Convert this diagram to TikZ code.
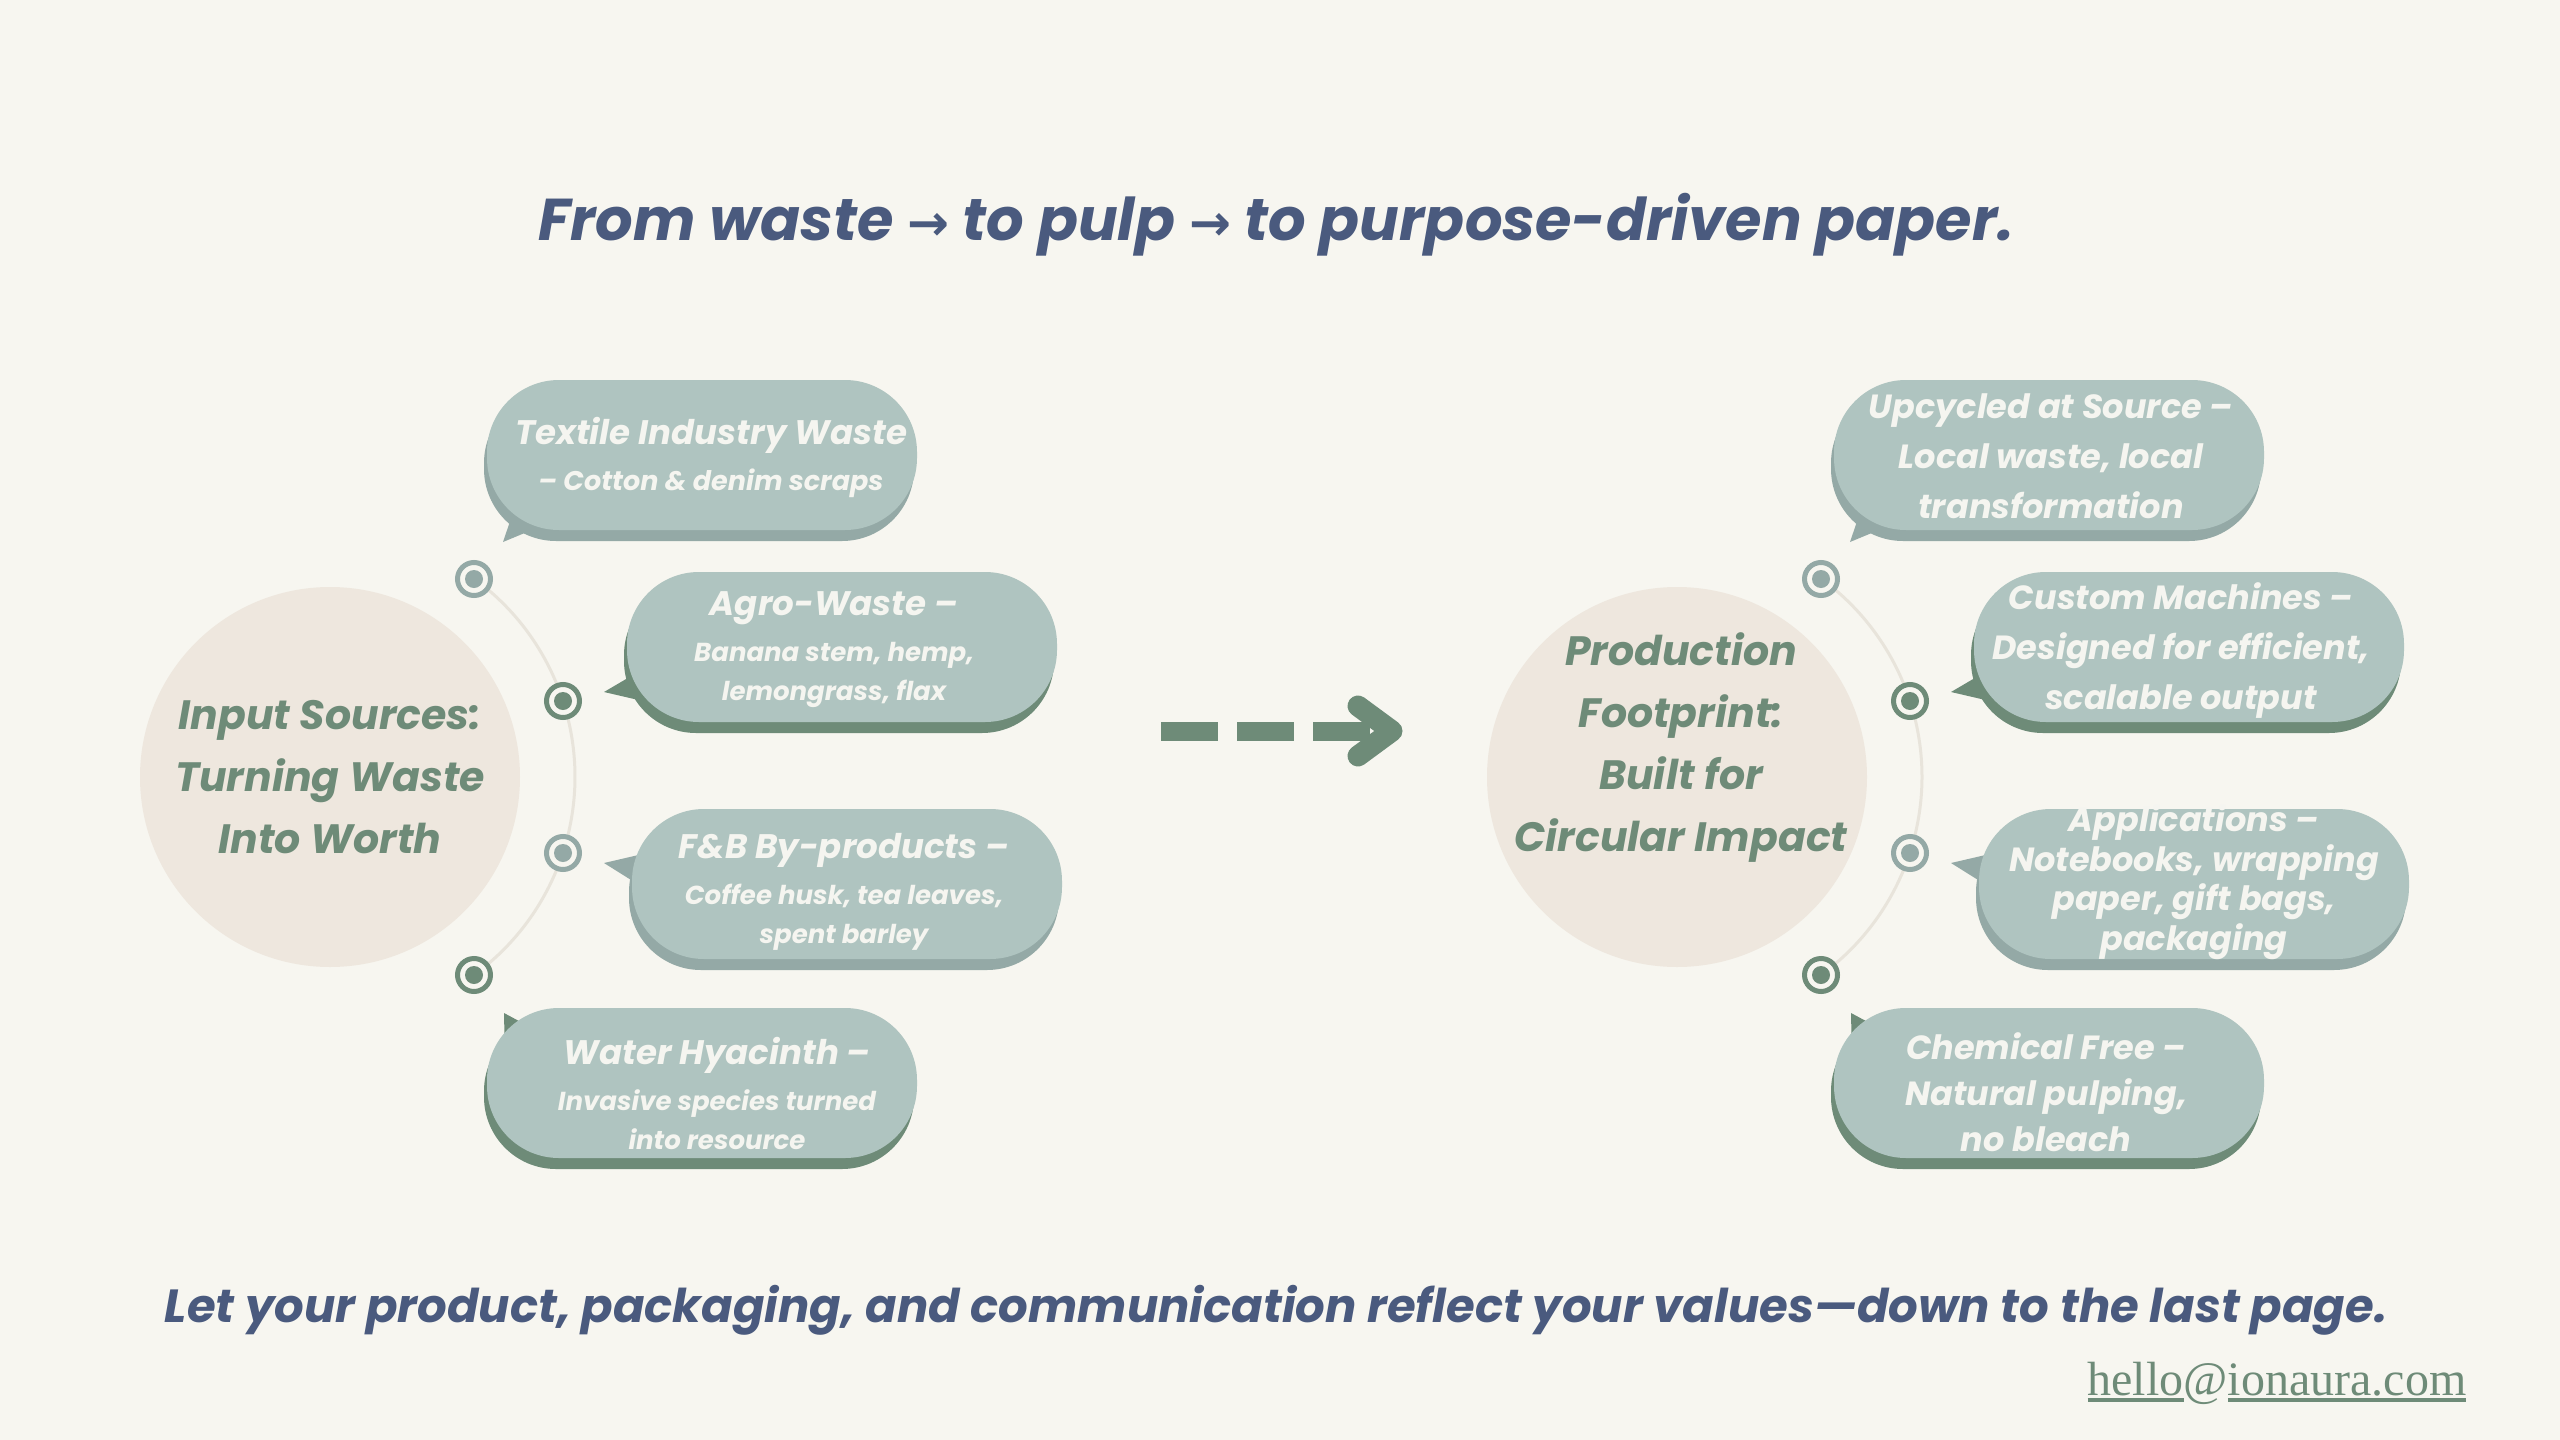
\documentclass[tikz,border=0pt]{standalone}
\usepackage{graphicx}
\usepackage{fontspec}
\setmainfont{Poppins}
\newfontfamily\arrowfont{DejaVu Sans}
\newfontfamily\emailfont{Liberation Serif}
\definecolor{bgc}{HTML}{F7F6F0}
\definecolor{beige}{HTML}{EEE7DE}
\definecolor{arcc}{HTML}{E8E4DB}
\definecolor{sage}{HTML}{6E8B78}
\definecolor{grayc}{HTML}{94A9A6}
\definecolor{bub}{HTML}{AFC4C0}
\definecolor{bubtxt}{HTML}{F5F5F0}
\definecolor{slate}{HTML}{4A5A7E}
\newsavebox\ulbox
\newcommand\myul[1]{\sbox\ulbox{#1}\rlap{\rule[-7pt]{\wd\ulbox}{4pt}}\usebox\ulbox}
\newcommand\smallarr{{\arrowfont\bfseries\scalebox{0.85}{→}}}
\newcommand\bt[1]{{\fontsize{34}{39}\selectfont #1}}
\tikzset{
  bubble/.style={fill=bub, rounded corners=72pt, minimum width=430pt, minimum height=150pt, inner sep=0pt},
  shgray/.style={bubble, fill=grayc},
  shgreen/.style={bubble, fill=sage},
  btext/.style={align=center, inner sep=0pt, text=bubtxt, font=\bfseries\itshape\fontsize{26}{39}\selectfont},
  rtext/.style={align=center, inner sep=0pt, text=bubtxt, font=\bfseries\itshape\fontsize{33.5}{50}\selectfont},
  hub/.style={circle, fill=beige, minimum size=380pt, inner sep=0pt},
  hubtext/.style={align=center, inner sep=0pt, text=sage, font=\bfseries\itshape\fontsize{41}{62}\selectfont},
  markg/.style={circle, draw=grayc, line width=5pt, fill=bgc, minimum size=33pt, inner sep=0pt},
  marks/.style={markg, draw=sage},
  dotg/.style={circle, fill=grayc, minimum size=18pt, inner sep=0pt},
  dots/.style={dotg, fill=sage},
  arcline/.style={draw=arcc, line width=3pt},
  dashbar/.style={fill=sage}
}
\begin{document}
\begin{tikzpicture}[x=1pt,y=-1pt]
\fill[bgc] (0,0) rectangle (2560,1440);
\useasboundingbox (0,0) rectangle (2560,1440);

% title
\node[anchor=base, text=slate, font=\bfseries\itshape\fontsize{59}{64}\selectfont] (title) at (1276,240)
  {From waste \smallarr{} to pulp \smallarr{} to purpose-driven paper.};

% ---------- left cluster ----------
\coordinate (lc) at (330,777);
\coordinate (lm1) at (474,579);
\coordinate (lm2) at (563,701);
\coordinate (lm3) at (563,853);
\coordinate (lm4) at (474,975);
\draw[arcline] (lm4) arc[start angle=-54, end angle=54, radius=245pt];
\node[hub] (lhub) at (lc) {};
\node[hubtext] (lhubt) at (330,777) {Input Sources:\\Turning Waste\\Into Worth};

\node[shgray] (lb1s) at (699,466) {};
\fill[grayc] (503,542) -- (520,492) -- (556,520) -- cycle;
\node[bubble] (lb1) at (702,455) {};
\node[btext] (lb1t) at (711,457) {\bt{Textile Industry Waste}\\[7pt]{\fontsize{27}{39}\selectfont – Cotton \& denim scraps}};

\node[shgreen] (lb2s) at (839,658) {};
\fill[sage] (604,692) -- (650,665) -- (660,705) -- cycle;
\node[bubble] (lb2) at (842,647) {};
\node[btext] (lb2t) at (834,650) {\bt{Agro-Waste –}\\[7pt]Banana stem, hemp,\\lemongrass, flax};

\node[shgray] (lb3s) at (844,895) {};
\fill[grayc] (604,863) -- (660,850) -- (655,895) -- cycle;
\node[bubble] (lb3) at (847,884) {};
\node[btext] (lb3t) at (844,892) {\bt{F\&B By-products –}\\[7pt]Coffee husk, tea leaves,\\spent barley};

\node[shgreen] (lb4s) at (699,1094) {};
\fill[sage] (504,1013) -- (545,1035) -- (505,1060) -- cycle;
\node[bubble] (lb4) at (702,1083) {};
\node[btext] (lb4t) at (717,1093) {\bt{Water Hyacinth –}\\[7pt]Invasive species turned\\into resource};

\node[markg] (lk1) at (lm1) {}; \node[dotg] (lk1d) at (lm1) {};
\node[marks] (lk2) at (lm2) {}; \node[dots] (lk2d) at (lm2) {};
\node[markg] (lk3) at (lm3) {}; \node[dotg] (lk3d) at (lm3) {};
\node[marks] (lk4) at (lm4) {}; \node[dots] (lk4d) at (lm4) {};

% ---------- arrow ----------
\fill[dashbar] (1161,722) rectangle (1218,741);
\fill[dashbar] (1237,722) rectangle (1294,741);
\fill[dashbar] (1313,722) rectangle (1370,741);
\draw[sage, line width=21pt, line cap=round, line join=round] (1358,706) -- (1392,731) -- (1358,756);

% ---------- right cluster ----------
\coordinate (rc) at (1677,777);
\coordinate (rm1) at (1821,579);
\coordinate (rm2) at (1910,701);
\coordinate (rm3) at (1910,853);
\coordinate (rm4) at (1821,975);
\draw[arcline] (rm4) arc[start angle=-54, end angle=54, radius=245pt];
\node[hub] (rhub) at (rc) {};
\node[hubtext] (rhubt) at (1681,748) {Production\\Footprint:\\Built for\\Circular Impact};

\node[shgray] (rb1s) at (2046,466) {};
\fill[grayc] (1850,542) -- (1867,492) -- (1903,520) -- cycle;
\node[bubble] (rb1) at (2049,455) {};
\node[rtext] (rb1t) at (2051,456) {Upcycled at Source –\\Local waste, local\\transformation};

\node[shgreen] (rb2s) at (2186,658) {};
\fill[sage] (1951,692) -- (1997,665) -- (2007,705) -- cycle;
\node[bubble] (rb2) at (2189,647) {};
\node[rtext] (rb2t) at (2181,651) {Custom Machines –\\Designed for efficient,\\scalable output};

\node[shgray] (rb3s) at (2191,895) {};
\fill[grayc] (1951,863) -- (2007,850) -- (2002,895) -- cycle;
\node[bubble] (rb3) at (2194,884) {};
\node[rtext, font=\bfseries\itshape\fontsize{33.5}{39.5}\selectfont] (rb3t) at (2194,882) {Applications –\\Notebooks, wrapping\\paper, gift bags,\\packaging};

\node[shgreen] (rb4s) at (2046,1094) {};
\fill[sage] (1851,1013) -- (1892,1035) -- (1852,1060) -- cycle;
\node[bubble] (rb4) at (2049,1083) {};
\node[rtext, font=\bfseries\itshape\fontsize{33.5}{46}\selectfont] (rb4t) at (2046,1092) {Chemical Free –\\Natural pulping,\\no bleach};

\node[markg] (rk1) at (rm1) {}; \node[dotg] (rk1d) at (rm1) {};
\node[marks] (rk2) at (rm2) {}; \node[dots] (rk2d) at (rm2) {};
\node[markg] (rk3) at (rm3) {}; \node[dotg] (rk3d) at (rm3) {};
\node[marks] (rk4) at (rm4) {}; \node[dots] (rk4d) at (rm4) {};

% footer
\node[anchor=base, text=slate, font=\bfseries\itshape\fontsize{46.5}{50}\selectfont] (foot) at (1276,1322)
  {Let your product, packaging, and communication reflect your values—down to the last page.};
\node[anchor=base, text=sage, font=\emailfont\fontsize{48}{50}\selectfont] (mail) at (2277,1395)
  {\myul{hello}@\myul{ionaura.com}};
\end{tikzpicture}
\end{document}
